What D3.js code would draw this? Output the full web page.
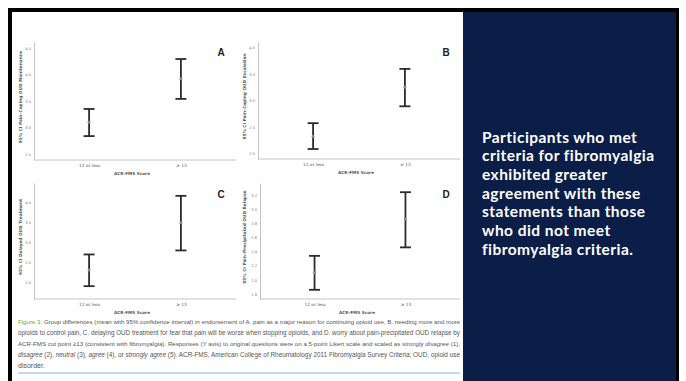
<!DOCTYPE html>
<html><head><meta charset="utf-8">
<script src="https://cdn.jsdelivr.net/npm/d3@7"></script>
<style>html,body{margin:0;padding:0;background:#fff;}svg{display:block;}</style>
</head><body>
<script>
// ---- data ----
const categories = ["12 or less", "\u2265 13"];
const panelLetters = ["A", "B", "C", "D"];
const yTitles = ["95% CI Pain\u2013Coping OUD Maintenance", "95% CI Pain\u2013Coping OUD Escalation",
                 "95% CI Delayed OUD Treatment", "95% CI Pain\u2013Precipitated OUD Relapse"];
const meanA = [3.10, 3.92], lowA = [2.84, 3.54], highA = [3.35, 4.29];
const meanB = [2.32, 3.25], lowB = [2.08, 2.89], highB = [2.57, 3.60];
const meanC = [2.30, 3.48], lowC = [1.90, 2.79], highC = [2.69, 4.15];
const meanD = [2.10, 2.86], lowD = [1.86, 2.46], highD = [2.34, 3.24];
const ticksA = [2.5, 3.0, 3.5, 4.0, 4.5];
const ticksB = [2.0, 2.5, 3.0, 3.5, 4.0];
const ticksC = [2.0, 2.5, 3.0, 3.5, 4.0];
const ticksD = [1.8, 2.0, 2.2, 2.4, 2.6, 2.8, 3.0, 3.2];
const domains = [[2.39, 4.61], [1.89, 4.11], [1.58, 4.47], [1.73, 3.37]];
const xTitle = "ACR-FMS Score";
const sideText = ["Participants who met", "criteria for fibromyalgia", "exhibited greater",
                  "agreement with these", "statements than those", "who did not meet", "fibromyalgia criteria."];
const captionLines = [
  [["Figure 3.", "fig"], [" Group differences (mean with 95% confidence interval) in endorsement of A. pain as a major reason for continuing opioid use, B. needing more and more", ""]],
  [["opioids to control pain, C. delaying OUD treatment for fear that pain will be worse when stopping opioids, and D. worry about pain-precipitated OUD relapse by", ""]],
  [["ACR-FMS cut point \u226513 (consistent with fibromyalgia). Responses (Y axis) to original questions were on a 5-point Likert scale and scaled as ", ""], ["strongly disagree", "i"], [" (1),", ""]],
  [["disagree", "i"], [" (2), ", ""], ["neutral", "i"], [" (3), ", ""], ["agree", "i"], [" (4), or ", ""], ["strongly agree", "i"], [" (5). ACR-FMS, American College of Rheumatology 2011 Fibromyalgia Survey Criteria; OUD, opioid use", ""]],
  [["disorder.", ""]]
];

const panels = [
  {letter: panelLetters[0], title: yTitles[0], mean: meanA, low: lowA, high: highA, ticks: ticksA, domain: domains[0]},
  {letter: panelLetters[1], title: yTitles[1], mean: meanB, low: lowB, high: highB, ticks: ticksB, domain: domains[1]},
  {letter: panelLetters[2], title: yTitles[2], mean: meanC, low: lowC, high: highC, ticks: ticksC, domain: domains[2]},
  {letter: panelLetters[3], title: yTitles[3], mean: meanD, low: lowD, high: highD, ticks: ticksD, domain: domains[3]}
];

// ---- layout ----
const W = 686, H = 381;
const svg = d3.select("body").append("svg").attr("width", W).attr("height", H);
svg.append("rect").attr("width", W).attr("height", H).attr("fill", "#fff");

// frame
svg.append("rect").attr("x", 8).attr("y", 8).attr("width", 671).attr("height", H).attr("fill", "#000");
svg.append("rect").attr("x", 12).attr("y", 12).attr("width", 451).attr("height", H).attr("fill", "#fff");
svg.append("rect").attr("x", 463).attr("y", 12).attr("width", 213).attr("height", H).attr("fill", "#0b1e48");

const boxes = [
  {x0: 34, x1: 236, y0: 42, y1: 160, lx: 221, ly: 52, tx: 22},
  {x0: 258, x1: 460, y0: 42, y1: 159, lx: 446, ly: 52, tx: 246},
  {x0: 34, x1: 236, y0: 183, y1: 299, lx: 221, ly: 194, tx: 22},
  {x0: 260, x1: 460, y0: 183, y1: 299, lx: 446, ly: 194, tx: 246}
];

panels.forEach((p, i) => {
  const b = boxes[i];
  const g = svg.append("g");
  const x = d3.scalePoint().domain(categories).range([b.x0, b.x1]).padding(0.6);
  const y = d3.scaleLinear().domain(p.domain).range([b.y1, b.y0]);

  const ya = g.append("g").attr("transform", `translate(${b.x0},0)`)
    .call(d3.axisLeft(y).tickValues(p.ticks).tickSize(0).tickPadding(3).tickFormat(d3.format(".1f")));
  ya.select(".domain").attr("stroke", "#b5b5b5").attr("stroke-width", 0.8);
  ya.selectAll("text").attr("font-size", 3.6).attr("fill", "#777").attr("font-family", "DejaVu Sans");

  const xa = g.append("g").attr("transform", `translate(0,${b.y1})`)
    .call(d3.axisBottom(x).tickSize(0).tickPadding(4));
  xa.select(".domain").attr("stroke", "#b5b5b5").attr("stroke-width", 0.8).attr("d", `M${b.x0},0H${b.x1}`);
  xa.selectAll("text").attr("font-size", 4.3).attr("fill", "#555").attr("font-family", "DejaVu Serif");

  g.append("text").attr("x", (b.x0 + b.x1) / 2 - 3).attr("y", b.y1 + 15)
    .attr("text-anchor", "middle").attr("font-size", 4.2).attr("font-weight", "bold")
    .attr("font-family", "DejaVu Sans").attr("fill", "#555").text(xTitle);

  g.append("text").attr("transform", `translate(${b.tx},${(b.y0 + b.y1) / 2 - 4}) rotate(-90)`)
    .attr("text-anchor", "middle").attr("font-size", 4.3).attr("font-weight", "bold")
    .attr("font-family", "DejaVu Sans").attr("fill", "#555").text(p.title);

  g.append("text").attr("x", b.lx).attr("y", b.ly + 4).attr("text-anchor", "middle")
    .attr("font-size", 10).attr("font-weight", "bold").attr("font-family", "Liberation Sans")
    .attr("fill", "#222").text(p.letter);

  categories.forEach((c, j) => {
    const cx = x(c);
    g.append("line").attr("x1", cx).attr("x2", cx).attr("y1", y(p.low[j])).attr("y2", y(p.high[j]))
      .attr("stroke", "#2b2b2b").attr("stroke-width", 1.8);
    [p.low[j], p.high[j]].forEach(v => {
      g.append("line").attr("x1", cx - 5.5).attr("x2", cx + 5.5).attr("y1", y(v)).attr("y2", y(v))
        .attr("stroke", "#2b2b2b").attr("stroke-width", 1.8);
    });
    g.append("circle").attr("cx", cx).attr("cy", y(p.mean[j])).attr("r", 1.3)
      .attr("fill", "#999").attr("stroke", "#777").attr("stroke-width", 0.4);
  });
});

// caption (justified via word-spacing)
const capY = [324, 335, 346, 357, 368];
const capW = 442;
captionLines.forEach((line, k) => {
  const t = svg.append("text").attr("x", 18).attr("y", capY[k]).attr("font-size", 7)
    .attr("font-family", "Liberation Sans").attr("fill", "#555");
  line.forEach(([s, st]) => {
    const ts = t.append("tspan").text(s);
    if (st === "fig") ts.attr("fill", "#6aaa3a");
    if (st === "i") ts.attr("font-style", "italic");
  });
  if (k < 4) {
    let w = t.node().getComputedTextLength();
    if (w > capW) {
      const fs = 7 * capW / w;
      t.attr("font-size", fs);
      w = t.node().getComputedTextLength();
    }
    const spaces = line.map(d => d[0]).join("").split(" ").length - 1;
    if (w < capW && spaces > 0) t.attr("word-spacing", (capW - w) / spaces);
  }
});
svg.append("line").attr("x1", 18).attr("x2", 460).attr("y1", 373).attr("y2", 373)
  .attr("stroke", "#86b6dc").attr("stroke-width", 1.2);

// side text (one text element per line)
sideText.forEach((s, k) => {
  svg.append("text").attr("x", 482).attr("y", 142.5 + k * 18.7)
    .attr("font-family", "Lato").attr("font-weight", "bold")
    .attr("font-size", 15.5).attr("letter-spacing", 0.45).attr("fill", "#fff").text(s);
});
</script>
</body></html>
